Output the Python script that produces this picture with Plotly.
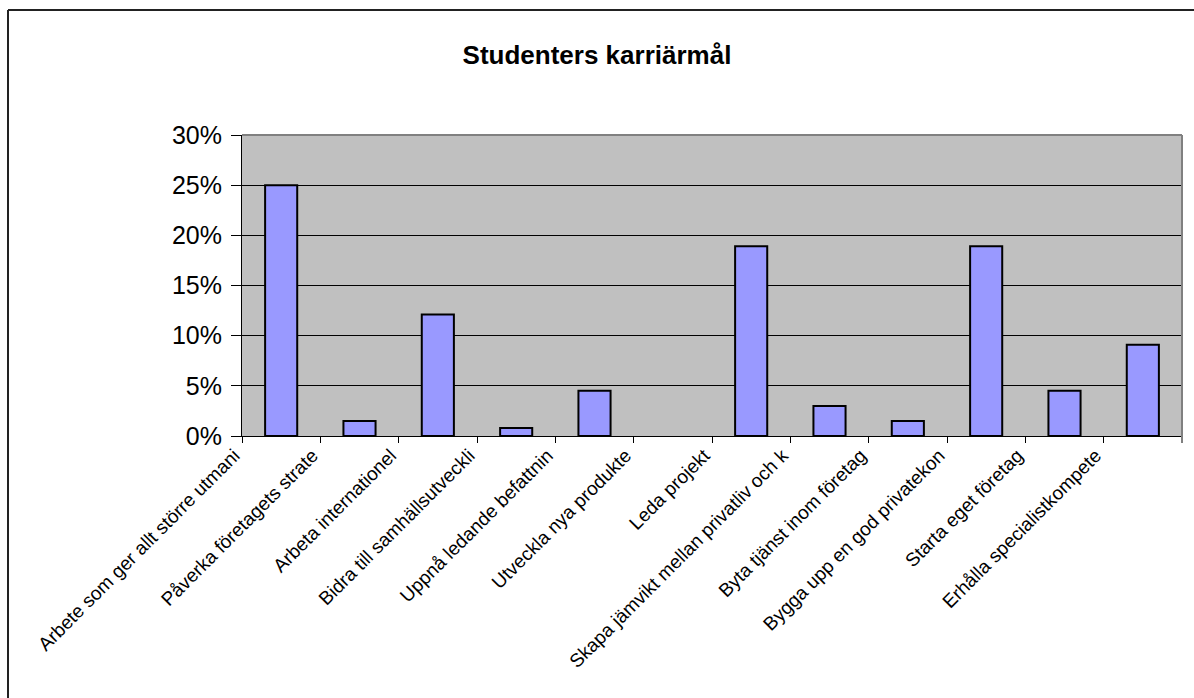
import plotly.graph_objects as go

categories = [
    "Arbete som ger allt större utmani",
    "Påverka företagets strate",
    "Arbeta internationel",
    "Bidra till samhällsutveckli",
    "Uppnå ledande befattnin",
    "Utveckla nya produkte",
    "Leda projekt",
    "Skapa jämvikt mellan privatliv och k",
    "Byta tjänst inom företag",
    "Bygga upp en god privatekon",
    "Starta eget företag",
    "Erhålla specialistkompete",
]
shares = [0.250, 0.015, 0.121, 0.008, 0.045, 0.0, 0.189, 0.030, 0.015, 0.189, 0.045, 0.091]
y_ticks = [0, 0.05, 0.10, 0.15, 0.20, 0.25, 0.30]
y_tick_labels = ["0%", "5%", "10%", "15%", "20%", "25%", "30%"]
title_text = "Studenters karriärmål"

W, H = 1194, 698
L, R, T, B = 242, 12, 135, 262
pw, ph = W - L - R, H - T - B

def px(x):
    return (x - L) / pw

def py(y):
    return (H - B - y) / ph

fig = go.Figure()
fig.add_trace(go.Bar(
    x=categories, y=shares, width=0.41,
    marker=dict(color="#9999FF",
                line=dict(color="black", width=[2 if v > 0 else 0 for v in shares])),
    hoverinfo="x+y",
))

fig.update_layout(
    width=W, height=H,
    margin=dict(l=L, r=R, t=T, b=B),
    paper_bgcolor="white",
    plot_bgcolor="#C0C0C0",
    showlegend=False,
    font=dict(family="Liberation Sans, Arial, sans-serif", color="black"),
    title=dict(text=f"<b>{title_text}</b>", x=0.5, xref="container", xanchor="center",
               y=1 - 55 / H, yref="container", yanchor="middle",
               font=dict(size=26, color="black")),
)
fig.update_yaxes(
    range=[0, 0.30], tickvals=y_ticks, ticktext=y_tick_labels,
    showgrid=True, gridcolor="#000000", gridwidth=1,
    showline=True, linecolor="black", linewidth=1,
    ticks="outside", ticklen=10, tickcolor="black",
    tickfont=dict(size=25), zeroline=False, fixedrange=True,
    ticklabelstandoff=4,
)
fig.update_xaxes(
    type="category", tickangle=-45, tickson="boundaries",
    showline=True, linecolor="black", linewidth=1,
    ticks="outside", ticklen=6, tickcolor="black",
    tickfont=dict(size=19), showgrid=False, fixedrange=True,
    ticklabelshift=-47,
)
# plot area border (top/right in gray)
fig.add_shape(type="line", xref="paper", yref="paper", x0=0, x1=1, y0=1, y1=1,
              line=dict(color="#808080", width=2), layer="above")
fig.add_shape(type="line", xref="paper", yref="paper", x0=1, x1=1, y0=py(443), y1=1,
              line=dict(color="#808080", width=2), layer="above")
# chart outer frame (top & left)
fig.add_shape(type="line", xref="paper", yref="paper", x0=px(8), x1=px(1300), y0=py(10), y1=py(10),
              line=dict(color="#222222", width=2), layer="above")
fig.add_shape(type="line", xref="paper", yref="paper", x0=px(8), x1=px(8), y0=py(10), y1=py(800),
              line=dict(color="#222222", width=2), layer="above")

fig.write_html("out.html")
